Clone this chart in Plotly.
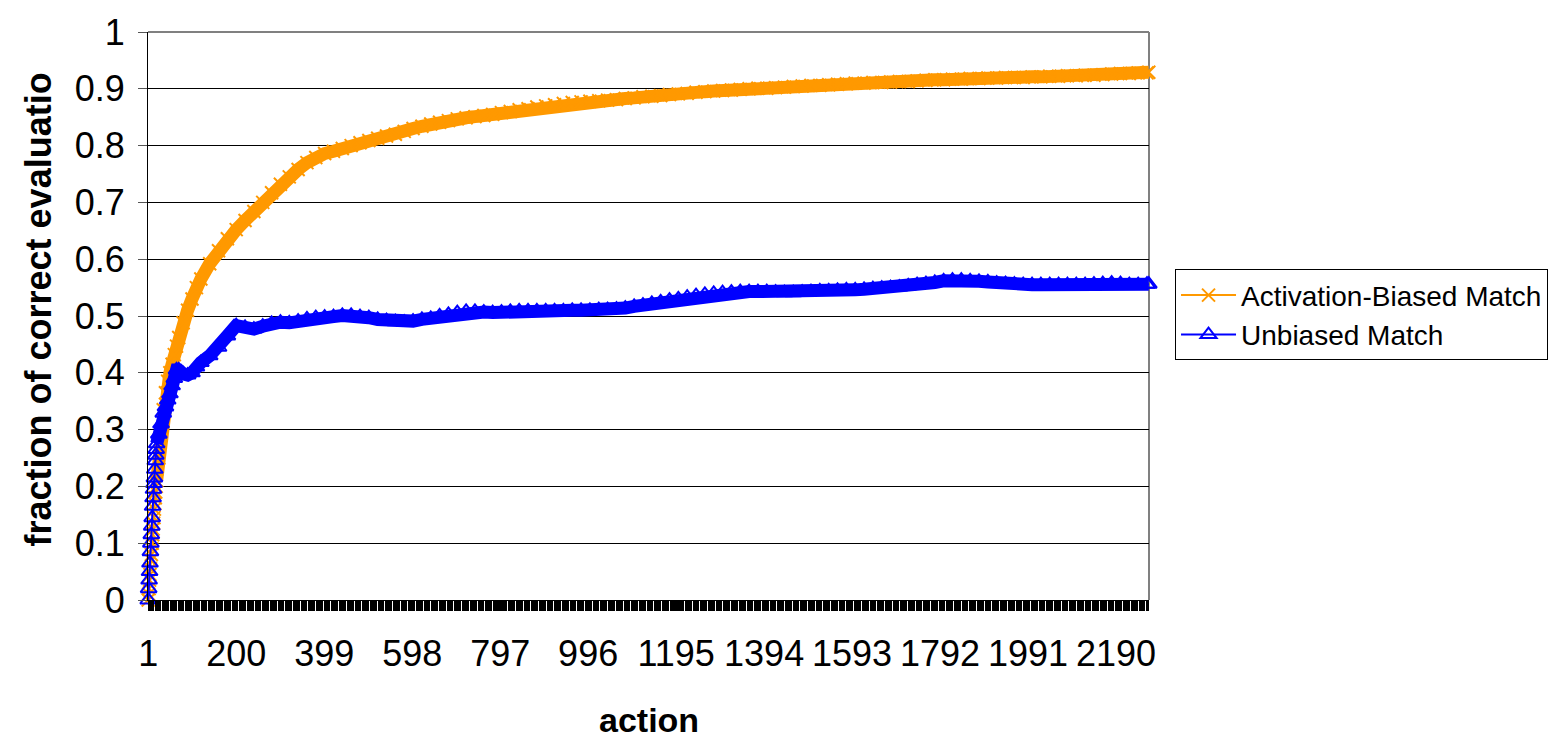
import plotly.graph_objects as go

# --- data ---------------------------------------------------------------
# action index at which each value was recorded
actions = (list(range(1, 21))
           + [25, 30, 35, 40, 45, 50, 55, 60, 65, 70]
           + [80, 90, 100, 110, 120]
           + list(range(140, 2261, 20))
           + [2264])

biased_match = [
    # actions 1-20
    0.000, 0.010, 0.020, 0.035, 0.045, 0.055, 0.070, 0.080, 0.090, 0.100,
    0.115, 0.125, 0.135, 0.145, 0.160, 0.170, 0.180, 0.190, 0.200, 0.210,
    # actions 25-70
    0.250, 0.290, 0.335, 0.365, 0.385, 0.400, 0.415, 0.432, 0.447, 0.462,
    # actions 80-120
    0.488, 0.510, 0.530, 0.550, 0.565,
    # actions 140-2260, every 20
    0.592, 0.615, 0.636, 0.652, 0.668, 0.684, 0.700, 0.717, 0.732, 0.745,
    0.758, 0.770, 0.779, 0.786, 0.790, 0.795, 0.800, 0.805, 0.809, 0.813,
    0.817, 0.820, 0.825, 0.830, 0.834, 0.838, 0.841, 0.844, 0.847, 0.849,
    0.851, 0.853, 0.855, 0.858, 0.860, 0.863, 0.865, 0.868, 0.870, 0.872,
    0.874, 0.876, 0.877, 0.878, 0.879, 0.880, 0.881, 0.883, 0.884, 0.886,
    0.887, 0.888, 0.890, 0.891, 0.892, 0.894, 0.895, 0.896, 0.897, 0.898,
    0.899, 0.900, 0.901, 0.901, 0.902, 0.903, 0.904, 0.905, 0.906, 0.906,
    0.907, 0.908, 0.909, 0.910, 0.910, 0.911, 0.911, 0.912, 0.913, 0.913,
    0.914, 0.915, 0.916, 0.916, 0.917, 0.917, 0.918, 0.918, 0.919, 0.919,
    0.920, 0.920, 0.920, 0.921, 0.921, 0.922, 0.922, 0.923, 0.923, 0.924,
    0.924, 0.925, 0.926, 0.927, 0.927, 0.928, 0.928,
    # action 2264
    0.929,
]

unbiased_match = [
    # actions 1-20
    0.000, 0.020, 0.035, 0.050, 0.065, 0.085, 0.100, 0.115, 0.130, 0.145,
    0.165, 0.180, 0.195, 0.205, 0.215, 0.230, 0.245, 0.255, 0.265, 0.275,
    # actions 25-70
    0.292, 0.310, 0.329, 0.340, 0.352, 0.363, 0.377, 0.390, 0.405, 0.405,
    # actions 80-120
    0.398, 0.396, 0.400, 0.410, 0.418,
    # actions 140-2260, every 20
    0.430, 0.445, 0.465, 0.483, 0.480, 0.477, 0.482, 0.487, 0.489, 0.488,
    0.491, 0.495, 0.497, 0.498, 0.499, 0.501, 0.501, 0.499, 0.497, 0.494,
    0.492, 0.490, 0.489, 0.491, 0.494, 0.496, 0.500, 0.503, 0.506, 0.508,
    0.508, 0.507, 0.506, 0.507, 0.508, 0.509, 0.509, 0.509, 0.509, 0.509,
    0.509, 0.510, 0.510, 0.510, 0.511, 0.511, 0.512, 0.514, 0.517, 0.519,
    0.522, 0.525, 0.528, 0.530, 0.533, 0.536, 0.538, 0.540, 0.541, 0.542,
    0.543, 0.543, 0.543, 0.543, 0.542, 0.541, 0.541, 0.542, 0.543, 0.544,
    0.544, 0.545, 0.546, 0.546, 0.547, 0.548, 0.549, 0.550, 0.551, 0.553,
    0.555, 0.557, 0.559, 0.562, 0.563, 0.563, 0.562, 0.561, 0.560, 0.558,
    0.557, 0.556, 0.555, 0.555, 0.555, 0.555, 0.555, 0.555, 0.555, 0.555,
    0.556, 0.557, 0.558, 0.557, 0.555, 0.555, 0.556,
    # action 2264
    0.556,
]

x_tick_labels = ["1", "200", "399", "598", "797", "996", "1195", "1394",
                 "1593", "1792", "1991", "2190"]
y_tick_values = [0, 0.1, 0.2, 0.3, 0.4, 0.5, 0.6, 0.7, 0.8, 0.9, 1]
y_tick_labels = ["0", "0.1", "0.2", "0.3", "0.4", "0.5", "0.6", "0.7",
                 "0.8", "0.9", "1"]

ORANGE = "#FF9900"
BLUE = "#0000FF"
FONT = "Arial, 'Liberation Sans', sans-serif"

# the dense part of each curve (after the first 20 actions) reads as a band
band_start = actions.index(20)

fig = go.Figure()

fig.add_trace(go.Scatter(
    x=actions[band_start:], y=biased_match[band_start:], mode="lines",
    line=dict(color=ORANGE, width=13), showlegend=False, hoverinfo="skip",
    cliponaxis=False))
fig.add_trace(go.Scatter(
    x=actions, y=biased_match, mode="lines+markers",
    name="Activation-Biased Match",
    line=dict(color=ORANGE, width=2),
    marker=dict(symbol="x-thin", size=13, color=ORANGE,
                line=dict(color=ORANGE, width=2)),
    cliponaxis=False))

fig.add_trace(go.Scatter(
    x=actions[band_start:], y=unbiased_match[band_start:], mode="lines",
    line=dict(color=BLUE, width=13), showlegend=False, hoverinfo="skip",
    cliponaxis=False))
fig.add_trace(go.Scatter(
    x=actions, y=unbiased_match, mode="lines+markers",
    name="Unbiased Match",
    line=dict(color=BLUE, width=2),
    marker=dict(symbol="triangle-up-open", size=14, color=BLUE,
                line=dict(color=BLUE, width=2)),
    cliponaxis=False))

x_tick_values = [int(t) for t in x_tick_labels]

fig.update_layout(
    width=1560, height=739,
    margin=dict(l=148, r=408, t=22, b=139),
    paper_bgcolor="white", plot_bgcolor="white",
    font=dict(family=FONT, color="black"),
    showlegend=True,
    legend=dict(
        x=1.026, y=0.582, xanchor="left", yanchor="top",
        bordercolor="black", borderwidth=1, bgcolor="white",
        font=dict(family=FONT, size=28, color="black"),
        itemwidth=55, tracegroupgap=0,
    ),
    xaxis=dict(
        range=[0.5, 2264.5],
        tickmode="array", tickvals=x_tick_values, ticktext=x_tick_labels,
        ticks="outside", ticklen=10, tickcolor="black", tickwidth=1,
        tickfont=dict(family=FONT, size=36, color="black"),
        ticklabelstandoff=12,
        showgrid=False, zeroline=False,
        showline=True, linecolor="black", linewidth=1,
        minor=dict(dtick=2.6, tick0=1, ticks="outside", ticklen=10,
                   tickcolor="black", tickwidth=1, showgrid=False),
    ),
    yaxis=dict(
        range=[0, 1],
        tickmode="array", tickvals=y_tick_values, ticktext=y_tick_labels,
        ticks="outside", ticklen=9, tickcolor="#555555", tickwidth=1,
        tickfont=dict(family=FONT, size=36, color="black"),
        ticklabelstandoff=6,
        showgrid=True, gridcolor="black", gridwidth=1,
        zeroline=False,
        showline=True, linecolor="black", linewidth=1,
    ),
    shapes=[
        dict(type="line", xref="paper", yref="paper", x0=0, x1=1, y0=1, y1=1,
             line=dict(color="#808080", width=2), layer="above"),
        dict(type="line", xref="paper", yref="paper", x0=1, x1=1, y0=0, y1=1,
             line=dict(color="#808080", width=2), layer="below"),
    ],
    annotations=[
        dict(text="<b>fraction of correct evaluatio</b>", xref="paper",
             yref="paper", x=-0.1096, y=0.512, xanchor="center",
             yanchor="middle", textangle=-90, showarrow=False,
             font=dict(family=FONT, size=36, color="black")),
        dict(text="<b>action</b>", xref="paper", yref="paper",
             x=0.5, y=-0.211, xanchor="center", yanchor="middle",
             showarrow=False,
             font=dict(family=FONT, size=34, color="black")),
    ],
)

fig.write_html("out.html")
